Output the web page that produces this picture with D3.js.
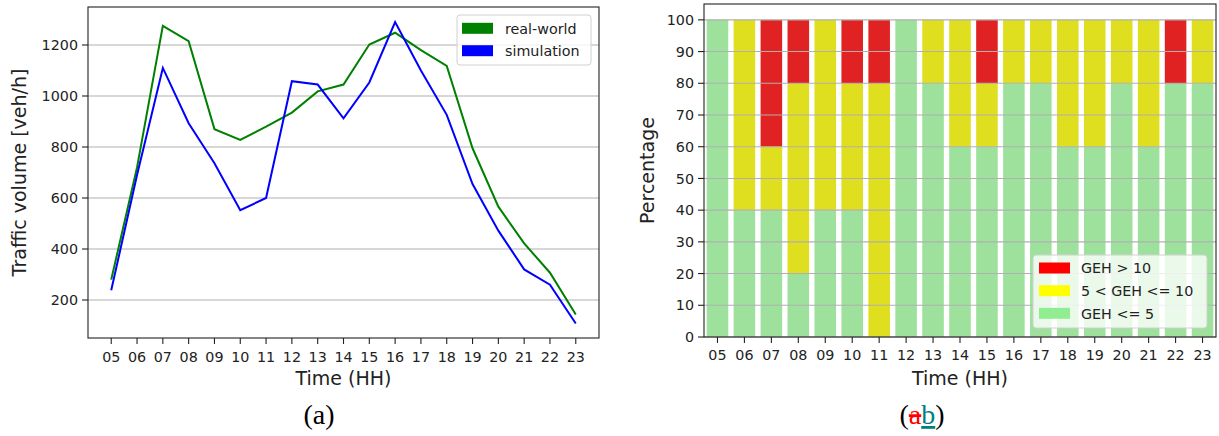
<!DOCTYPE html>
<html>
<head>
<meta charset="utf-8">
<script src="https://cdn.jsdelivr.net/npm/d3@7"></script>
<style>
  body { margin: 0; background: #fff; }
  svg { display: block; }
  text { font-family: "DejaVu Sans", sans-serif; fill: #222; }
</style>
</head>
<body>
<svg id="chart" width="1219" height="436"></svg>
<script>
// ---------- data ----------
const hours = ["05","06","07","08","09","10","11","12","13","14","15","16","17","18","19","20","21","22","23"];
const realWorld  = [280, 720, 1275, 1215, 870, 828, 880, 935, 1018, 1045, 1202, 1248, 1180, 1118, 795, 566, 422, 307, 143];
const simulation = [238, 690, 1110, 893, 736, 552, 600, 1058, 1045, 912, 1053, 1290, 1100, 926, 655, 472, 320, 260, 108];
const yTicksLeft = [200, 400, 600, 800, 1000, 1200];

const gehLow  = [100, 40, 40, 20, 40, 40, 0, 100, 80, 60, 60, 80, 80, 60, 60, 80, 60, 80, 80];
const gehMid  = [0, 60, 20, 60, 60, 40, 80, 0, 20, 40, 20, 20, 20, 40, 40, 20, 40, 0, 20];
const gehHigh = [0, 0, 40, 20, 0, 20, 20, 0, 0, 0, 20, 0, 0, 0, 0, 0, 0, 20, 0];
const yTicksRight = [0, 10, 20, 30, 40, 50, 60, 70, 80, 90, 100];

const svg = d3.select("#chart");
svg.append("rect").attr("width", 1219).attr("height", 436).attr("fill", "#fff");

const tickFont = "14.3px";
const labelFont = "19px";
const gridColor = "#b0b0b0";

// ---------- left chart ----------
const L = {left: 88, right: 599, top: 7, bottom: 338};
const xL = d3.scaleLinear().domain([4.1, 23.9]).range([L.left, L.right]);
const yL = d3.scaleLinear().domain([51, 1349]).range([L.bottom, L.top]);
const gL = svg.append("g");

// grid
gL.selectAll(".gridL").data(yTicksLeft).enter().append("line")
  .attr("x1", L.left).attr("x2", L.right)
  .attr("y1", d => yL(d)).attr("y2", d => yL(d))
  .attr("stroke", gridColor).attr("stroke-width", 1.1);

// lines
const lineGen = arr => d3.line().x((d, i) => xL(+hours[i])).y(d => yL(d))(arr);
gL.append("path").attr("d", lineGen(realWorld)).attr("fill", "none")
  .attr("stroke", "#008000").attr("stroke-width", 2).attr("stroke-linejoin", "miter");
gL.append("path").attr("d", lineGen(simulation)).attr("fill", "none")
  .attr("stroke", "#0000ff").attr("stroke-width", 2).attr("stroke-linejoin", "miter");

// frame
gL.append("rect").attr("x", L.left).attr("y", L.top)
  .attr("width", L.right - L.left).attr("height", L.bottom - L.top)
  .attr("fill", "none").attr("stroke", "#222").attr("stroke-width", 1.1);

// x ticks
hours.forEach(h => {
  const x = xL(+h);
  gL.append("line").attr("x1", x).attr("x2", x).attr("y1", L.bottom).attr("y2", L.bottom + 6)
    .attr("stroke", "#222").attr("stroke-width", 1.1);
  gL.append("text").attr("x", x).attr("y", L.bottom + 23.5).attr("text-anchor", "middle")
    .style("font-size", tickFont).text(h);
});
// y ticks
yTicksLeft.forEach(v => {
  const y = yL(v);
  gL.append("line").attr("x1", L.left - 6).attr("x2", L.left).attr("y1", y).attr("y2", y)
    .attr("stroke", "#222").attr("stroke-width", 1.1);
  gL.append("text").attr("x", L.left - 10).attr("y", y + 5.2).attr("text-anchor", "end")
    .style("font-size", tickFont).text(v);
});
gL.append("text").attr("x", (L.left + L.right) / 2).attr("y", 385).attr("text-anchor", "middle")
  .style("font-size", labelFont).text("Time (HH)");
gL.append("text").attr("transform", `translate(26,${(L.top + L.bottom) / 2}) rotate(-90)`)
  .attr("text-anchor", "middle").style("font-size", labelFont).text("Traffic volume [veh/h]");

// legend left
const legL = gL.append("g");
legL.append("rect").attr("x", 457).attr("y", 15).attr("width", 134).attr("height", 50).attr("rx", 3)
  .attr("fill", "#fff").attr("fill-opacity", 0.8).attr("stroke", "#d0d0d0");
[["real-world", "#008000", 28.3], ["simulation", "#0000ff", 50.7]].forEach(([t, c, cy]) => {
  legL.append("rect").attr("x", 462).attr("y", cy - 5.5).attr("width", 31).attr("height", 11).attr("fill", c);
  legL.append("text").attr("x", 505).attr("y", cy + 5.2).style("font-size", tickFont).text(t);
});

// caption (a)
svg.append("text").attr("x", 319).attr("y", 424).attr("text-anchor", "middle")
  .style("font-family", "'Liberation Serif', 'Times New Roman', serif").style("font-size", "28px")
  .style("fill", "#000").text("(a)");

// ---------- right chart ----------
const R = {left: 704, right: 1216, top: 4, bottom: 337};
const xR = d3.scaleBand().domain(hours).range([R.left, R.right]).paddingInner(0.2).paddingOuter(0.1);
const yR = d3.scaleLinear().domain([0, 105]).range([R.bottom, R.top]);
const gR = svg.append("g");

const barColors = {low: "#9de19d", mid: "#dfde1f", high: "#e02222"};
hours.forEach((h, i) => {
  const segs = [
    [0, gehLow[i], barColors.low],
    [gehLow[i], gehLow[i] + gehMid[i], barColors.mid],
    [gehLow[i] + gehMid[i], gehLow[i] + gehMid[i] + gehHigh[i], barColors.high]
  ];
  segs.forEach(([a, b, c]) => {
    if (b > a) {
      gR.append("rect").attr("x", xR(h)).attr("width", xR.bandwidth())
        .attr("y", yR(b)).attr("height", yR(a) - yR(b)).attr("fill", c);
    }
  });
});

// grid on top of bars
gR.selectAll(".gridR").data(yTicksRight).enter().append("line")
  .attr("x1", R.left).attr("x2", R.right)
  .attr("y1", d => yR(d)).attr("y2", d => yR(d))
  .attr("stroke", gridColor).attr("stroke-width", 1.1);

// frame
gR.append("rect").attr("x", R.left).attr("y", R.top)
  .attr("width", R.right - R.left).attr("height", R.bottom - R.top)
  .attr("fill", "none").attr("stroke", "#222").attr("stroke-width", 1.1);

hours.forEach(h => {
  const x = xR(h) + xR.bandwidth() / 2;
  gR.append("line").attr("x1", x).attr("x2", x).attr("y1", R.bottom).attr("y2", R.bottom + 6)
    .attr("stroke", "#222").attr("stroke-width", 1.1);
  gR.append("text").attr("x", x).attr("y", R.bottom + 23).attr("text-anchor", "middle")
    .style("font-size", tickFont).text(h);
});
yTicksRight.forEach(v => {
  const y = yR(v);
  gR.append("line").attr("x1", R.left - 6).attr("x2", R.left).attr("y1", y).attr("y2", y)
    .attr("stroke", "#222").attr("stroke-width", 1.1);
  gR.append("text").attr("x", R.left - 10).attr("y", y + 5.2).attr("text-anchor", "end")
    .style("font-size", tickFont).text(v);
});
gR.append("text").attr("x", (R.left + R.right) / 2).attr("y", 385).attr("text-anchor", "middle")
  .style("font-size", labelFont).text("Time (HH)");
gR.append("text").attr("transform", `translate(654,${(R.top + R.bottom) / 2}) rotate(-90)`)
  .attr("text-anchor", "middle").style("font-size", labelFont).text("Percentage");

// legend right
const legR = gR.append("g");
legR.append("rect").attr("x", 1033).attr("y", 255).attr("width", 174).attr("height", 73).attr("rx", 3)
  .attr("fill", "#fff").attr("fill-opacity", 0.8).attr("stroke", "#d0d0d0");
[["GEH > 10", "#ff0000", 268], ["5 < GEH <= 10", "#ffff00", 290.7], ["GEH <= 5", "#90ee90", 313.3]].forEach(([t, c, cy]) => {
  legR.append("rect").attr("x", 1039).attr("y", cy - 5.5).attr("width", 31).attr("height", 11).attr("fill", c);
  legR.append("text").attr("x", 1081).attr("y", cy + 5.2).style("font-size", tickFont).text(t);
});

// caption (ab)
const cap = svg.append("text").attr("x", 922).attr("y", 424).attr("text-anchor", "middle")
  .style("font-family", "'Liberation Serif', 'Times New Roman', serif").style("font-size", "28px");
cap.append("tspan").style("fill", "#000").text("(");
cap.append("tspan").style("fill", "#ff0000").style("text-decoration", "line-through").text("a");
cap.append("tspan").style("fill", "#008080").style("text-decoration", "underline").text("b");
cap.append("tspan").style("fill", "#000").text(")");
</script>
</body>
</html>
